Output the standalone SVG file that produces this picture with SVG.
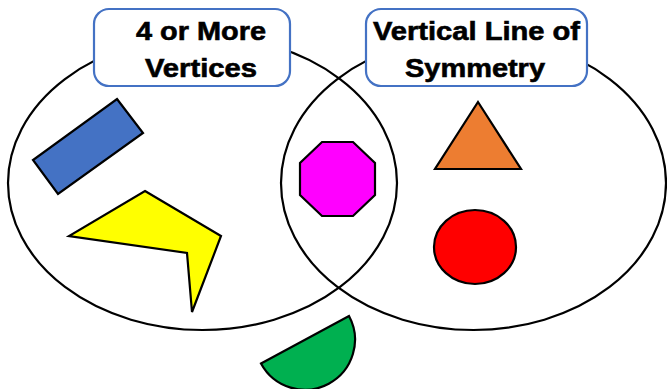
<svg xmlns="http://www.w3.org/2000/svg" width="667" height="389" viewBox="0 0 667 389">
<style>
.ring{fill:none;stroke:#000;stroke-width:2.2}
.shape{stroke:#000;stroke-width:2.2;stroke-linejoin:miter}
.label{fill:#fff;stroke:#4472C4;stroke-width:2.2}
.t{font-family:"Liberation Sans",Arial,sans-serif;font-weight:bold;font-size:25.5px;fill:#000;stroke:#000;stroke-width:0.6;text-anchor:middle}
</style>
<rect width="667" height="389" fill="#fff"/>
<g id="connectors">
<ellipse id="setA" class="ring" cx="202.5" cy="183" rx="194.5" ry="147"/>
<ellipse id="setB" class="ring" cx="473.5" cy="183" rx="192.5" ry="147"/>
</g>
<g id="labelA">
<rect class="label" x="94" y="9" width="196" height="77" rx="15"/>
<text class="t" x="201" y="40" textLength="130" lengthAdjust="spacingAndGlyphs">4 or More</text>
<text class="t" x="201" y="77" textLength="112" lengthAdjust="spacingAndGlyphs">Vertices</text>
</g>
<g id="labelB">
<rect class="label" x="366" y="9" width="221" height="77" rx="15"/>
<text class="t" x="476.5" y="40" textLength="207" lengthAdjust="spacingAndGlyphs">Vertical Line of</text>
<text class="t" x="475" y="77" textLength="140" lengthAdjust="spacingAndGlyphs">Symmetry</text>
</g>
<g id="rectangle"><polygon class="shape" fill="#4472C4" points="117,99 143,133 58,194 33,160"/></g>
<g id="pentagon"><polygon class="shape" fill="#FFFF00" points="145,191 221,236 192,312 187,253 69,236"/></g>
<g id="octagon"><polygon class="shape" fill="#FF00FF" points="322,142 353,142 375,163 375,195 353,216 322,216 300,195 300,163"/></g>
<g id="triangle"><polygon class="shape" fill="#ED7D31" points="478,102 521,169 435,169"/></g>
<g id="circle"><ellipse class="shape" fill="#FF0000" cx="475" cy="247" rx="41" ry="37"/></g>
<g id="semicircle"><path class="shape" fill="#00B050" d="M261,363.5 L349,316 A50,50 0 0 1 261,363.5 Z"/></g>
</svg>
